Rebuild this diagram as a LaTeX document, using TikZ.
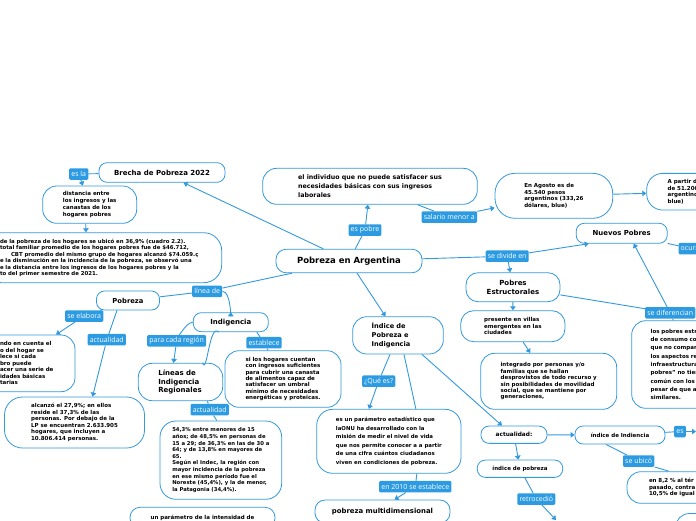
\documentclass[tikz,border=0pt]{standalone}
\usepackage{fontspec}
\setmainfont{DejaVu Sans}
\newfontfamily\tagfont{Open Sans}
\usetikzlibrary{arrows.meta}
\definecolor{mapblue}{HTML}{3399DD}
\definecolor{tagblue}{HTML}{2D9BE2}

\begin{document}
\begin{tikzpicture}[x=1pt,y=-1pt,
  note/.style={draw=mapblue, line width=0.8pt, fill=white, rounded corners=14pt, align=left, inner sep=1pt, font=\bfseries\fontsize{5.5}{6.6}\selectfont},
  topic/.style={draw=mapblue, line width=0.8pt, fill=white, rounded corners=8pt, align=center, inner sep=1pt, font=\bfseries\fontsize{7}{8.4}\selectfont},
  tag/.style={fill=tagblue, text=white, rounded corners=1.2pt, inner xsep=2.2pt, inner ysep=0pt, minimum height=11.5pt, font=\tagfont\fontsize{7}{8}\selectfont},
  link/.style={draw=mapblue, line width=0.9pt},
  arr/.style={link, -{Triangle[length=4pt,width=5.5pt]}}]
\useasboundingbox (0,0) rectangle (696,520);
\clip (0,0) rectangle (696,520);

\node[topic, minimum width=146, minimum height=23.5, rounded corners=10pt, font=\bfseries\fontsize{8.5}{10}\selectfont] (main) at (349,261) {Pobreza en Argentina};
\node[note, minimum width=214.6, minimum height=36, font=\bfseries\fontsize{6.3}{8.7}\selectfont] (indiv) at (370,186.3) {el individuo que no puede satisfacer sus\\necesidades básicas con sus ingresos\\laborales};
\node[note, minimum width=117.7, minimum height=45, rounded corners=20pt, font=\bfseries\fontsize{5.5}{6.7}\selectfont] (agosto) at (553.85,195.8) {En Agosto es de\\45.540 pesos\\argentinos (333,26\\dólares, blue)};
\node[note, minimum width=122, minimum height=36.7, text width=80, rounded corners=16pt, font=\bfseries\fontsize{5.5}{6.7}\selectfont] (apartir) at (707.7,191.7) {A partir d\\de 51.200\\argentinos\\blue)};
\node[topic, minimum width=91, minimum height=20, font=\bfseries\fontsize{6.9}{8}\selectfont] (nuevos) at (621.7,233.3) {Nuevos Pobres};
\node[topic, minimum width=94, minimum height=29, rounded corners=12pt] (estruct) at (513,287.2) {Pobres\\Estructorales};
\node[note, minimum width=104.3, minimum height=31, rounded corners=13pt, font=\bfseries\fontsize{5.5}{6.4}\selectfont] (presente) at (512.85,326.2) {presente en villas\\emergentes en las\\ciudades};
\node[note, minimum width=136, minimum height=56, font=\bfseries\fontsize{5.5}{6.4}\selectfont] (integrado) at (548.7,381.3) {integrado por personas y/o\\familias que se hallan\\desprovistos de todo recurso y\\sin posibilidades de movilidad\\social, que se mantiene por\\generaciones,};
\node[note, minimum width=118, minimum height=87.6, text width=80, font=\bfseries\fontsize{5.5}{8.3}\selectfont] (consumo) at (690.7,364.5) {los pobres estr\\de consumo co\\que no compar\\los aspectos re\\infraestructura\\pobres" no tien\\común con los\\pesar de que a\\similares.};
\node[note, minimum width=90.6, minimum height=37.3, text width=52.6, font=\bfseries\fontsize{6.6}{8.8}\selectfont] (indice) at (398,335.35) {Índice de\\Pobreza e\\Indigencia};
\node[note, minimum width=144.3, minimum height=64, rounded corners=16pt, font=\bfseries\fontsize{5.4}{8.5}\selectfont] (parametro) at (388.85,441.3) {es un parámetro estadístico que\\laONU ha desarrollado con la\\misión de medir el nivel de vida\\que nos permite conocer a a partir\\de una cifra cuántos ciudadanos\\viven en condiciones de pobreza.};
\node[topic, minimum width=135, minimum height=23, rounded corners=10pt, font=\bfseries\fontsize{6.9}{8}\selectfont] (multidim) at (382.5,511.5) {pobreza multidimensional};
\node[topic, minimum width=66, minimum height=17.3, font=\bfseries\fontsize{5.8}{7}\selectfont] (actualidad2) at (514,434.7) {actualidad:};
\node[topic, minimum width=90, minimum height=18, font=\bfseries\fontsize{5.5}{7}\selectfont] (indiencia) at (620,435) {índice de Indiencia};
\node[topic, minimum width=85.4, minimum height=17.3, font=\bfseries\fontsize{5.5}{7}\selectfont] (indpobreza) at (520,468.7) {índice de pobreza};
\node[note, minimum width=124, minimum height=31.6, text width=80, font=\bfseries\fontsize{5.5}{6.7}\selectfont] (ochodos) at (689,487.5) {en 8,2 \% al tér\\pasado, contra\\10,5\% de igual};
\node[note, minimum width=60, minimum height=33] (rest) at (705.5,530) {};

\node[topic, minimum width=126, minimum height=19.6] (brecha) at (162,172.5) {Brecha de Pobreza 2022};
\node[note, minimum width=94, minimum height=37.3, font=\bfseries\fontsize{5.5}{7}\selectfont] (distancia) at (89.7,204.65) {distancia entre\\los ingresos y las\\canastas de los\\hogares pobres};
\node[note, minimum width=238.4, minimum height=50, text width=205, rounded corners=18pt, font=\bfseries\fontsize{5.4}{6.5}\selectfont] (bigbox) at (102.5,257.7) {de la pobreza de los hogares se ubicó en 36,9\% (cuadro 2.2).\\total familiar promedio de los hogares pobres fue de \$46.712,\\\hspace*{11pt}CBT promedio del mismo grupo de hogares alcanzó \$74.059.ç\\e la disminución en la incidencia de la pobreza, se observó una\\e la distancia entre los ingresos de los hogares pobres y la\\to del primer semestre de 2021.};
\node[topic, minimum width=63, minimum height=19, font=\bfseries\fontsize{6.8}{8}\selectfont] (pobreza) at (128,300.5) {Pobreza};
\node[note, minimum width=94, minimum height=56.7, text width=56, font=\bfseries\fontsize{5.5}{6.5}\selectfont] (tomando) at (28,363.35) {ndo en cuenta el\\o del hogar se\\lece si cada\\bro puede\\acer una serie de\\idades básicas\\tarias};
\node[note, minimum width=140, minimum height=51, rounded corners=18pt, font=\bfseries\fontsize{5.5}{6.5}\selectfont] (alcanzo) at (74.5,422.5) {alcanzó el 27,9\%; en ellos\\reside el 37,3\% de las\\personas. Por debajo de la\\LP se encuentran 2.633.905\\hogares, que incluyen a\\10.806.414 personas.};
\node[topic, minimum width=75, minimum height=19] (indigencia) at (230.8,322.2) {Indigencia};
\node[note, minimum width=84.4, minimum height=37.4, text width=44.4, font=\bfseries\fontsize{7}{8.5}\selectfont] (lineas) at (180.5,382) {Líneas de\\Indigencia\\Regionales};
\node[note, minimum width=116, minimum height=56.6, font=\bfseries\fontsize{5.5}{6.4}\selectfont] (sihogares) at (283,379) {si los hogares cuentan\\con ingresos suficientes\\para cubrir una canasta\\de alimentos capaz de\\satisfacer un umbral\\mínimo de necesidades\\energéticas y proteicas.};
\node[note, minimum width=121.7, minimum height=78.3, rounded corners=16pt, font=\bfseries\fontsize{5.3}{6.6}\selectfont] (cincuenta) at (220.85,460.15) {54,3\% entre menores de 15\\años; de 48,5\% en personas de\\15 a 29; de 36,3\% en las de 30 a\\64; y de 13,8\% en mayores de\\65.\\Según el Indec, la región con\\mayor incidencia de la pobreza\\en ese mismo período fue el\\Noreste (45,4\%), y la de menor,\\la Patagonia (34,4\%).};
\node[note, minimum width=145, minimum height=20.8, rounded corners=10pt] (unparam) at (202.5,517.7) {un parámetro de la intensidad de};

\node[tag] (esla) at (78.7,174) {es la};
\node[tag] (espobre) at (365,230) {es pobre};
\node[tag] (salario) at (449.3,217) {salario menor a};
\node[tag] (sedivide) at (507.2,256.2) {se divide en};
\node[tag, anchor=west] (sediferencian) at (645,312.8) {se diferencian};
\node[tag, anchor=west] (ocurre) at (678.3,248.7) {ocurre};
\node[tag] (quees) at (378.7,381.2) {¿Qué es?};
\node[tag] (en2010) at (415.3,486.7) {en 2010 se establece};
\node[tag] (es) at (680,431.5) {es};
\node[tag] (seubico) at (638.7,461) {se ubicó};
\node[tag] (retrocedio) at (536.3,499) {retrocedió};
\node[tag] (lineade) at (207.2,291.3) {línea de};
\node[tag] (seelabora) at (84.2,316) {se elabora};
\node[tag] (actualidad1) at (106.8,339.7) {actualidad};
\node[tag] (paracada) at (176.7,340.8) {para cada región};
\node[tag] (establece) at (264,342.7) {establece};
\node[tag] (actualidad3) at (209.7,409.7) {actualidad};

\coordinate (esend) at (696,431.5);
\coordinate (retend) at (556,520);

\draw[arr] (main) -- (brecha);
\draw[link] (main) -- (espobre);
\draw[arr] (espobre) -- (indiv);
\draw[link] (indiv) -- (salario);
\draw[arr] (salario) -- (agosto);
\draw[arr] (agosto) -- (apartir);
\draw[link] (main) -- (sedivide);
\draw[arr] (sedivide) -- ([xshift=-33pt]nuevos.south);
\draw[arr] (sedivide) -- (estruct);
\draw[link] (nuevos) -- (ocurre);
\draw[link] (estruct) -- (sediferencian);
\draw[arr] (sediferencian) -- ([xshift=12pt]nuevos.south);
\draw[link] (sediferencian) -- (consumo);
\draw[arr] (estruct) -- (presente);
\draw[arr] (presente) -- (integrado);
\draw[arr] (main) -- (indice);
\draw[link] (indice) -- (quees);
\draw[arr] (quees) -- ([xshift=-20pt]parametro.north);
\draw[link] ([xshift=6pt]indice.south) -- ([xshift=27pt]parametro.north);
\draw[arr] ([xshift=24pt]indice.south) -- ([xshift=-12pt]actualidad2.north);
\draw[link] ([xshift=28pt]parametro.south) -- (en2010);
\draw[arr] (en2010) -- ([xshift=12pt]multidim.north);
\draw[arr] (actualidad2) -- (indiencia);
\draw[link] (indiencia) -- (es);
\draw[arr] (es) -- (esend);
\draw[link] ([xshift=-14pt]indiencia.south) -- (seubico);
\draw[link] (seubico.south east) -- ([xshift=-20pt]ochodos.north);
\draw[arr] (actualidad2) -- (indpobreza);
\draw[link] (indpobreza) -- (retrocedio);
\draw[arr] (retrocedio) -- (retend);

\draw[link] (brecha) -- (esla);
\draw[arr] (esla) -- (distancia);
\draw[arr] ([xshift=-4pt]distancia.south) -- ([xshift=-16.5pt]bigbox.north);
\draw[link] (main) -- (lineade);
\draw[link] (lineade) -- (pobreza);
\draw[arr] (lineade.east) to[out=0,in=-90] (indigencia.north);
\draw[link] (pobreza) -- (seelabora);
\draw[arr] (seelabora) -- ([xshift=28pt]tomando.north);
\draw[link] ([xshift=-11pt]pobreza.south) -- (actualidad1);
\draw[arr] (actualidad1) -- ([xshift=18pt]alcanzo.north);
\draw[link] (indigencia.west) to[out=180,in=-90] (paracada.north);
\draw[arr] (paracada) -- ([xshift=-7pt]lineas.north);
\draw[link] ([xshift=22pt]lineas.north) to[out=-70,in=135] ([xshift=-12pt]indigencia.south);
\draw[link] ([xshift=26pt]indigencia.south) -- (establece);
\draw[link] (establece) -- (sihogares);
\draw[link] ([xshift=27pt]lineas.south) -- (actualidad3);
\draw[link] (actualidad3) -- ([xshift=-4pt]cincuenta.north);
\end{tikzpicture}
\end{document}
